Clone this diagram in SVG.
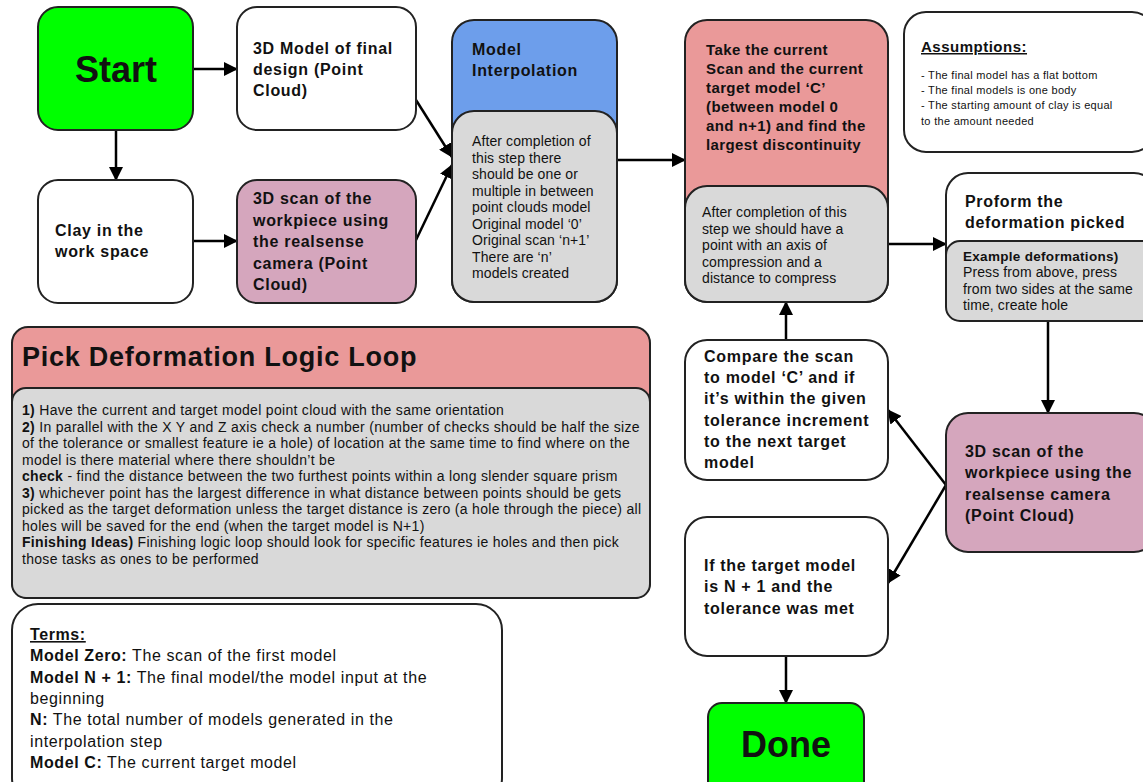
<svg xmlns="http://www.w3.org/2000/svg" width="1143" height="782" viewBox="0 0 1143 782">
<style>
text{font-family:"Liberation Sans",Arial,sans-serif;fill:#111}
.box{stroke:#222;stroke-width:2}
.w{fill:#fff}.g{fill:#00ff00}.b{fill:#6d9eeb}.r{fill:#ea9999}.p{fill:#d5a6bd}.gr{fill:#d9d9d9}
.h{font-weight:bold;font-size:16px;letter-spacing:0.7px}
.t{font-weight:bold;font-size:15px;letter-spacing:0.4px}
.s{font-size:14px;letter-spacing:0.1px}
.sb{font-size:13.5px;font-weight:bold;letter-spacing:0.3px}
.l{font-size:14px;letter-spacing:0.3px}
.a{font-size:11px;letter-spacing:0.3px}
.m{font-size:16px;letter-spacing:0.6px}
.big{font-size:36px;font-weight:bold}
.c{stroke:#000;stroke-width:2.5;fill:none;marker-end:url(#ah)}
</style>
<defs>
<marker id="ah" markerUnits="userSpaceOnUse" markerWidth="14" markerHeight="14" refX="13" refY="7" orient="auto" viewBox="0 0 14 14">
<path d="M0,0 L14,7 L0,14 z" fill="#000"/>
</marker>
</defs>
<rect width="1143" height="782" fill="#fff"/>

<g id="connectors">
<line class="c" x1="193" y1="69" x2="237" y2="69"/>
<line class="c" x1="116" y1="130" x2="116" y2="180"/>
<line class="c" x1="193" y1="241" x2="237" y2="241"/>
<line class="c" x1="416" y1="100" x2="452" y2="157"/>
<line class="c" x1="416" y1="240" x2="452" y2="165"/>
<line class="c" x1="617" y1="160" x2="685" y2="160"/>
<line class="c" x1="888" y1="244" x2="946" y2="244"/>
<line class="c" x1="1048" y1="321" x2="1048" y2="413"/>
<line class="c" x1="946" y1="485" x2="888" y2="410"/>
<line class="c" x1="946" y1="485" x2="888" y2="583"/>
<line class="c" x1="786" y1="340" x2="786" y2="302"/>
<line class="c" x1="786" y1="656" x2="786" y2="703"/>
</g>

<g id="start">
<rect class="box g" x="38" y="7" width="155" height="123" rx="20"/>
<text class="big" x="116" y="82" text-anchor="middle">Start</text>
</g>

<g id="model-final">
<rect class="box w" x="237" y="7" width="179" height="123" rx="20"/>
<text class="h" x="253" y="54">3D Model of final</text>
<text class="h" x="253" y="75">design (Point</text>
<text class="h" x="253" y="96">Cloud)</text>
</g>

<g id="clay">
<rect class="box w" x="38" y="180" width="155" height="123" rx="20"/>
<text class="h" x="55" y="236">Clay in the</text>
<text class="h" x="55" y="257">work space</text>
</g>

<g id="scan1">
<rect class="box p" x="237" y="180" width="179" height="123" rx="20"/>
<text class="h" x="253" y="204">3D scan of the</text>
<text class="h" x="253" y="226">workpiece using</text>
<text class="h" x="253" y="247">the realsense</text>
<text class="h" x="253" y="269">camera (Point</text>
<text class="h" x="253" y="290">Cloud)</text>
</g>

<g id="interpolation">
<rect class="box b" x="452" y="20" width="165" height="282" rx="22"/>
<text class="h" x="472" y="55">Model</text>
<text class="h" x="472" y="76">Interpolation</text>
<rect class="box gr" x="452" y="111" width="165" height="191" rx="22"/>
<text class="s" x="472" y="146">After completion of</text>
<text class="s" x="472" y="163">this step there</text>
<text class="s" x="472" y="179">should be one or</text>
<text class="s" x="472" y="196">multiple in between</text>
<text class="s" x="472" y="212">point clouds model</text>
<text class="s" x="472" y="229">Original model ‘0’</text>
<text class="s" x="472" y="245">Original scan ‘n+1’</text>
<text class="s" x="472" y="262">There are ‘n’</text>
<text class="s" x="472" y="278">models created</text>
</g>

<g id="discontinuity">
<rect class="box r" x="685" y="20" width="203" height="282" rx="22"/>
<text class="t" x="706" y="55">Take the current</text>
<text class="t" x="706" y="74">Scan and the current</text>
<text class="t" x="706" y="93">target model ‘C’</text>
<text class="t" x="706" y="112">(between model 0</text>
<text class="t" x="706" y="131">and n+1) and find the</text>
<text class="t" x="706" y="150">largest discontinuity</text>
<rect class="box gr" x="685" y="186" width="203" height="116" rx="22"/>
<text class="s" x="702" y="217">After completion of this</text>
<text class="s" x="702" y="234">step we should have a</text>
<text class="s" x="702" y="250">point with an axis of</text>
<text class="s" x="702" y="267">compression and a</text>
<text class="s" x="702" y="283">distance to compress</text>
</g>

<g id="assumptions">
<rect class="box w" x="904" y="12" width="250" height="140" rx="22"/>
<text x="921" y="52" style="font-size:15px;font-weight:bold;letter-spacing:0.5px" text-decoration="underline">Assumptions:</text>
<text class="a" x="921" y="79">- The final model has a flat bottom</text>
<text class="a" x="921" y="94">- The final models is one body</text>
<text class="a" x="921" y="109">- The starting amount of clay is equal</text>
<text class="a" x="921" y="125">to the amount needed</text>
</g>

<g id="proform">
<rect class="box w" x="946" y="173" width="210" height="148" rx="22"/>
<text class="h" x="965" y="207">Proform the</text>
<text class="h" x="965" y="228">deformation picked</text>
<rect class="box gr" x="946" y="241" width="210" height="80" rx="14"/>
<text class="sb" x="963" y="261">Example deformations)</text>
<text class="s" x="963" y="277">Press from above, press</text>
<text class="s" x="963" y="294">from two sides at the same</text>
<text class="s" x="963" y="310">time, create hole</text>
</g>

<g id="scan2">
<rect class="box p" x="946" y="413" width="210" height="139" rx="22"/>
<text class="h" x="965" y="457">3D scan of the</text>
<text class="h" x="965" y="478">workpiece using the</text>
<text class="h" x="965" y="500">realsense camera</text>
<text class="h" x="965" y="521">(Point Cloud)</text>
</g>

<g id="compare">
<rect class="box w" x="685" y="340" width="203" height="140" rx="22"/>
<text class="h" x="704" y="362">Compare the scan</text>
<text class="h" x="704" y="383">to model ‘C’ and if</text>
<text class="h" x="704" y="404">it’s within the given</text>
<text class="h" x="704" y="426">tolerance increment</text>
<text class="h" x="704" y="447">to the next target</text>
<text class="h" x="704" y="468">model</text>
</g>

<g id="final-check">
<rect class="box w" x="685" y="517" width="203" height="139" rx="22"/>
<text class="h" x="704" y="571">If the target model</text>
<text class="h" x="704" y="592">is N + 1 and the</text>
<text class="h" x="704" y="614">tolerance was met</text>
</g>

<g id="done">
<rect class="box g" x="708" y="703" width="156" height="100" rx="14"/>
<text class="big" x="786" y="757" text-anchor="middle">Done</text>
</g>

<g id="logic-loop">
<rect class="box r" x="12" y="327" width="638" height="271" rx="16"/>
<text x="22" y="366" style="font-size:27px;font-weight:bold;letter-spacing:0.75px">Pick Deformation Logic Loop</text>
<rect class="box gr" x="12" y="388" width="638" height="210" rx="14"/>
<text class="l" x="22" y="415"><tspan font-weight="bold">1)</tspan> Have the current and target model point cloud with the same orientation</text>
<text class="l" x="22" y="432"><tspan font-weight="bold">2)</tspan> In parallel with the X Y and Z axis check a number (number of checks should be half the size</text>
<text class="l" x="22" y="448">of the tolerance or smallest feature ie a hole) of location at the same time to find where on the</text>
<text class="l" x="22" y="465">model is there material where there shouldn’t be</text>
<text class="l" x="22" y="481"><tspan font-weight="bold">check</tspan> - find the distance between the two furthest points within a long slender square prism</text>
<text class="l" x="22" y="498"><tspan font-weight="bold">3)</tspan> whichever point has the largest difference in what distance between points should be gets</text>
<text class="l" x="22" y="514">picked as the target deformation unless the target distance is zero (a hole through the piece) all</text>
<text class="l" x="22" y="531">holes will be saved for the end (when the target model is N+1)</text>
<text class="l" x="22" y="547"><tspan font-weight="bold">Finishing Ideas)</tspan> Finishing logic loop should look for specific features ie holes and then pick</text>
<text class="l" x="22" y="564">those tasks as ones to be performed</text>
</g>

<g id="terms">
<rect class="box w" x="12" y="604" width="490" height="200" rx="26"/>
<text x="30" y="640" style="font-size:16px;font-weight:bold;letter-spacing:0.6px" text-decoration="underline">Terms:</text>
<text class="m" x="30" y="661"><tspan font-weight="bold">Model Zero:</tspan> The scan of the first model</text>
<text class="m" x="30" y="683"><tspan font-weight="bold">Model N + 1:</tspan> The final model/the model input at the</text>
<text class="m" x="30" y="704">beginning</text>
<text class="m" x="30" y="725"><tspan font-weight="bold">N:</tspan> The total number of models generated in the</text>
<text class="m" x="30" y="747">interpolation step</text>
<text class="m" x="30" y="768"><tspan font-weight="bold">Model C:</tspan> The current target model</text>
</g>
</svg>
